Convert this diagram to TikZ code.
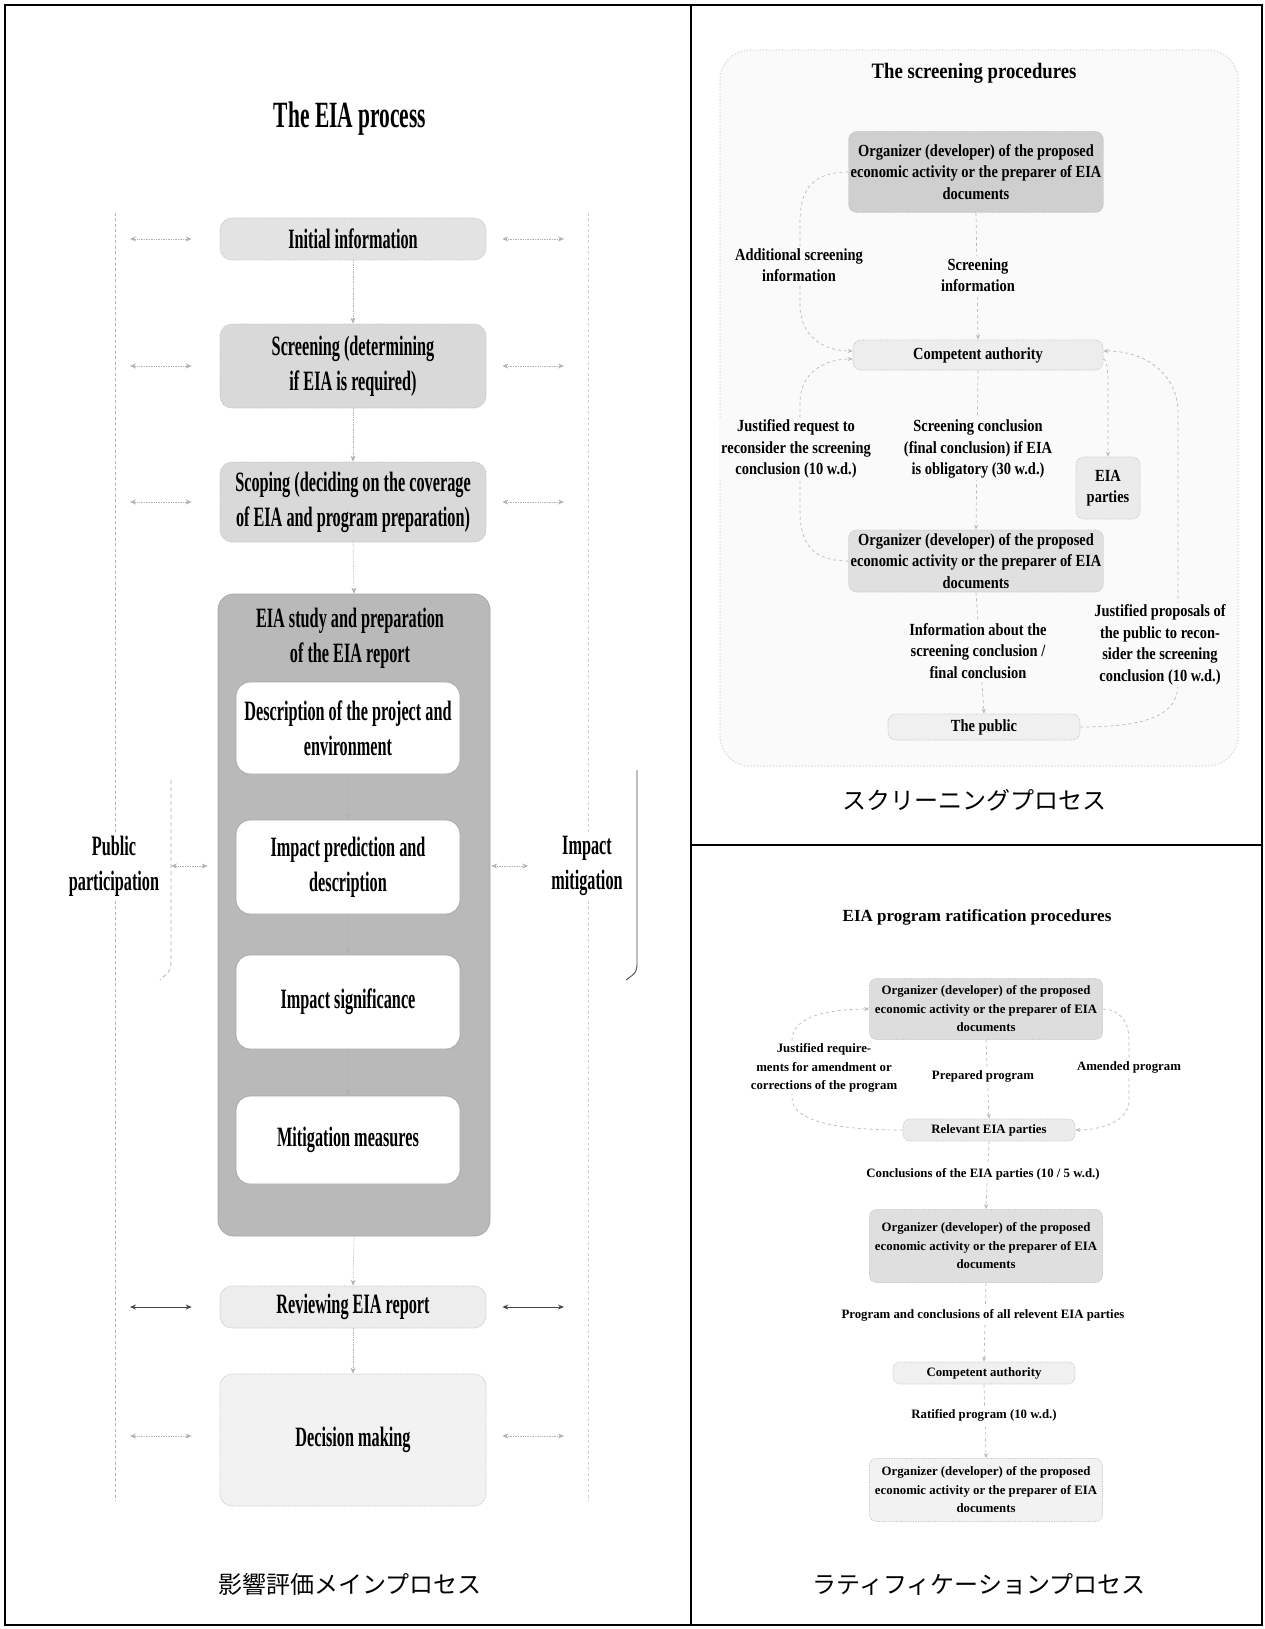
\documentclass[tikz,border=0pt]{standalone}
\usepackage{fontspec}
\setmainfont{Liberation Serif}
\newfontfamily\leftserif[FakeStretch=0.58]{Liberation Serif}
\newfontfamily\scrserif[FakeStretch=0.85]{Liberation Serif}
\newfontfamily\jpsans{Noto Sans CJK JP}
\usetikzlibrary{arrows.meta}

\colorlet{scrbg}{gray!4}

\tikzset{
  panel/.style={line width=1.6pt, draw=black},
  % left column: the EIA process
  ltext/.style={font=\leftserif\bfseries\fontsize{28}{35}\selectfont, align=center, inner sep=0pt},
  lbox/.style={ltext, rounded corners=12pt, draw=gray!55, densely dotted, line width=0.7pt},
  innerbox/.style={ltext, rounded corners=14pt, fill=white, draw=gray!70, line width=0.8pt,
                   minimum width=224pt},
  colline/.style={gray!60, dash pattern=on 3pt off 2.5pt, line width=0.8pt},
  sidearr/.style={gray!60, densely dotted, line width=0.7pt,
                  {Stealth[length=6pt,width=5pt]}-{Stealth[length=6pt,width=5pt]}},
  sidearrsolid/.style={gray!55!black, line width=0.8pt,
                  {Stealth[length=6pt,width=5pt]}-{Stealth[length=6pt,width=5pt]}},
  downarr/.style={gray!60, densely dotted, line width=0.7pt, -{Stealth[length=6pt,width=5pt]}},
  % right column: screening and ratification
  stext/.style={font=\scrserif\bfseries\fontsize{17}{21.5}\selectfont, align=center, inner sep=2pt},
  slabel/.style={stext, fill=scrbg},
  sbox/.style={stext, rounded corners=8pt, draw=gray!50, densely dotted, line width=0.7pt},
  rtext/.style={font=\bfseries\fontsize{12.8}{18.5}\selectfont, align=center, inner sep=2pt},
  rlabel/.style={rtext, fill=white},
  rbox/.style={rtext, rounded corners=7pt, draw=gray!50, densely dotted, line width=0.7pt},
  conn/.style={gray!55, dashed, line width=0.7pt, -{Stealth[length=5pt,width=4pt]}},
  caption/.style={font=\jpsans\fontsize{24}{28}\selectfont, inner sep=0pt},
}

\begin{document}
\begin{tikzpicture}[x=1pt,y=-1pt]
\useasboundingbox (0,0) rectangle (1265,1629);
\fill[white] (0,0) rectangle (1265,1629);

% ---------- panel frames ----------
\draw[panel] (5,5) rectangle (1262,1625);
\draw[panel] (691,5) -- (691,1625);
\draw[panel] (691,845) -- (1262,845);

% =====================================================
% Left panel: the EIA process
% =====================================================
\node[font=\leftserif\bfseries\fontsize{37}{44}\selectfont] (eiatitle) at (350,119) {The EIA process};

% side columns
\coordinate (ppTop) at (115,213); \coordinate (ppBot) at (115,1501);
\coordinate (imTop) at (588,213); \coordinate (imBot) at (588,1501);
\draw[colline] (ppTop) -- (ppBot);
\draw[colline, gray!35] (imTop) -- (imBot);

% main sequence
\node[lbox, fill=gray!22, minimum width=266pt, minimum height=42pt] (init) at (353,239) {Initial information};
\node[lbox, fill=gray!30, minimum width=266pt, minimum height=84pt] (screen) at (353,366) {Screening (determining\\ if EIA is required)};
\node[lbox, fill=gray!30, minimum width=266pt, minimum height=80pt] (scope) at (353,502) {Scoping (deciding on the coverage\\ of EIA and program preparation)};

\node[rounded corners=16pt, fill=gray!55, draw=gray!70, line width=0.8pt,
      minimum width=272pt, minimum height=642pt, inner sep=0pt] (big) at (354,915) {};
\node[ltext] (bighead) at (350,638) {EIA study and preparation\\ of the EIA report};
\node[innerbox, minimum height=92pt] (desc) at (348,728) {Description of the project and\\ environment};
\node[innerbox, minimum height=94pt] (pred) at (348,867) {Impact prediction and\\ description};
\node[innerbox, minimum height=94pt] (sig) at (348,1002) {Impact significance};
\node[innerbox, minimum height=88pt] (mitig) at (348,1140) {Mitigation measures};

\node[lbox, fill=gray!14, minimum width=266pt, minimum height=42pt] (review) at (353,1307) {Reviewing EIA report};
\node[lbox, fill=gray!10, minimum width=266pt, minimum height=132pt] (decide) at (353,1440) {Decision making};

% side labels
\node[ltext, fill=white, inner sep=3pt] (pubT) at (114,866) {Public\\ participation};
\node[ltext, fill=white, inner sep=3pt] (mitT) at (587,866) {Impact\\ mitigation};

% brackets next to the side labels
\coordinate (brLtop) at (171,780); \coordinate (brLbot) at (171,958); \coordinate (brLend) at (160,980);
\draw[gray!60, dash pattern=on 4pt off 3pt, line width=0.8pt] (brLtop) -- (brLbot) .. controls (171,970) .. (brLend);
\coordinate (brRtop) at (637,770); \coordinate (brRbot) at (637,960); \coordinate (brRend) at (626,980);
\draw[black!70, line width=0.9pt] (brRtop) -- (brRbot) .. controls (637,972) .. (brRend);

% downward flow
\draw[downarr] (init.south) -- (screen.north);
\draw[downarr] (screen.south) -- (scope.north);
\draw[downarr] (scope.south) -- (big.north);
\draw[downarr] (desc.south) -- (pred.north);
\draw[downarr] (pred.south) -- (sig.north);
\draw[downarr] (sig.south) -- (mitig.north);
\draw[downarr] (big.south) -- (review.north);
\draw[downarr] (review.south) -- (decide.north);

% links with the side columns
\coordinate (ppA) at (115,239);  \coordinate (imA) at (588,239);
\coordinate (ppB) at (115,366);  \coordinate (imB) at (588,366);
\coordinate (ppC) at (115,502);  \coordinate (imC) at (588,502);
\coordinate (ppD) at (115,1307); \coordinate (imD) at (588,1307);
\coordinate (ppE) at (115,1436); \coordinate (imE) at (588,1436);
\coordinate (brL) at (171,866);

\draw[sidearr, shorten <=15pt, shorten >=28pt] (ppA) -- (init.west);
\draw[sidearr, shorten <=16pt, shorten >=24pt] (init.east) -- (imA);
\draw[sidearr, shorten <=15pt, shorten >=28pt] (ppB) -- (screen.west);
\draw[sidearr, shorten <=16pt, shorten >=24pt] (screen.east) -- (imB);
\draw[sidearr, shorten <=15pt, shorten >=28pt] (ppC) -- (scope.west);
\draw[sidearr, shorten <=16pt, shorten >=24pt] (scope.east) -- (imC);
\draw[sidearr, shorten >=10pt] (brL) -- (big.west |- brL);
\draw[sidearr, shorten <=1pt, shorten >=20pt] (big.east |- mitT.west) -- (mitT.west);
\draw[sidearrsolid, shorten <=15pt, shorten >=28pt] (ppD) -- (review.west);
\draw[sidearrsolid, shorten <=16pt, shorten >=24pt] (review.east) -- (imD);
\draw[sidearr, shorten <=15pt, shorten >=28pt] (ppE) -- (decide.west |- ppE);
\draw[sidearr, shorten <=16pt, shorten >=24pt] (decide.east |- imE) -- (imE);

\node[caption] (capL) at (350,1584) {影響評価メインプロセス};

% =====================================================
% Upper right panel: the screening procedures
% =====================================================
\draw[gray!30, dotted, line width=1.2pt, fill=scrbg, rounded corners=30pt] (720,50) rectangle (1238,766);

\node[font=\scrserif\bfseries\fontsize{22}{26}\selectfont] (stitle) at (974,73) {The screening procedures};

\node[sbox, fill=gray!38, minimum width=253pt, minimum height=81pt] (org1) at (976,172)
  {Organizer (developer) of the proposed\\ economic activity or the preparer of EIA\\ documents};
\node[sbox, fill=gray!14, minimum width=250pt, minimum height=30pt] (auth) at (978,355) {Competent authority};
\node[sbox, fill=gray!16, minimum width=64pt, minimum height=62pt] (parties) at (1108,488) {EIA\\ parties};
\node[sbox, fill=gray!24, minimum width=253pt, minimum height=62pt] (org2) at (976,561)
  {Organizer (developer) of the proposed\\ economic activity or the preparer of EIA\\ documents};
\node[sbox, fill=gray!12, minimum width=192pt, minimum height=26pt] (public) at (984,727) {The public};

% loops on the left: organizer -> competent authority
\draw[conn] (org1.west) .. controls (814,172) and (800,188) .. (800,222) -- (800,305)
  .. controls (800,335) and (822,351) .. ([yshift=4pt]auth.west);
\draw[conn] (org2.west) .. controls (814,561) and (800,545) .. (800,512) -- (800,402)
  .. controls (800,375) and (822,359) .. ([yshift=-4pt]auth.west);
% straight links down the middle
\draw[conn] (org1.south) -- (auth.north);
\draw[conn] (auth.south) -- (org2.north);
\draw[conn] (org2.south) -- (public.north);
% links on the right
\draw[conn] ([yshift=-4pt]auth.east) .. controls (1106,359) and (1108,366) .. (1108,385) -- (parties.north);
\draw[conn] (public.east) .. controls (1150,727) and (1178,714) .. (1178,684) -- (1178,412)
  .. controls (1178,378) and (1150,351) .. ([yshift=4pt]auth.east);

\node[slabel] (addinfo) at (799,265) {Additional screening\\ information};
\node[slabel] (scrinfo) at (978,275) {Screening\\ information};
\node[slabel] (justreq) at (796,449) {Justified request to\\ reconsider the screening\\ conclusion (10 w.d.)};
\node[slabel] (concl) at (978,449) {Screening conclusion\\ (final conclusion) if EIA\\ is obligatory (30 w.d.)};
\node[slabel] (infoabout) at (978,651) {Information about the\\ screening conclusion /\\ final conclusion};
\node[slabel] (justprop) at (1160,645) {Justified proposals of\\ the public to recon-\\ sider the screening\\ conclusion (10 w.d.)};

\node[caption] (capS) at (974,800) {スクリーニングプロセス};

% =====================================================
% Lower right panel: EIA program ratification
% =====================================================
\node[font=\bfseries\fontsize{17}{20}\selectfont] (rtitle) at (977,917) {EIA program ratification procedures};

\node[rbox, fill=gray!27, minimum width=233pt, minimum height=61pt] (orgA) at (986,1009)
  {Organizer (developer) of the proposed\\ economic activity or the preparer of EIA\\ documents};
\node[rbox, fill=gray!16, minimum width=172pt, minimum height=22pt] (parties2) at (989,1130) {Relevant EIA parties};
\node[rbox, fill=gray!25, minimum width=233pt, minimum height=73pt] (orgB) at (986,1246)
  {Organizer (developer) of the proposed\\ economic activity or the preparer of EIA\\ documents};
\node[rbox, fill=gray!12, minimum width=182pt, minimum height=22pt] (auth2) at (984,1373) {Competent authority};
\node[rbox, fill=gray!10, minimum width=233pt, minimum height=63pt] (orgC) at (986,1490)
  {Organizer (developer) of the proposed\\ economic activity or the preparer of EIA\\ documents};

% feedback loops around the program
\draw[conn] (parties2.west) .. controls (840,1130) and (792,1122) .. (792,1098) -- (792,1040)
  .. controls (792,1016) and (830,1009) .. (orgA.west);
\draw[conn] (orgA.east) .. controls (1118,1009) and (1129,1020) .. (1129,1040) -- (1129,1100)
  .. controls (1129,1122) and (1100,1130) .. (parties2.east);
% main sequence
\draw[conn] (orgA.south) -- (parties2.north);
\draw[conn] (parties2.south) -- (orgB.north);
\draw[conn] (orgB.south) -- (auth2.north);
\draw[conn] (auth2.south) -- (orgC.north);

\node[rlabel] (justreq2) at (824,1068) {Justified require-\\ ments for amendment or\\ corrections of the program};
\node[rlabel] (prep) at (983,1076) {Prepared program};
\node[rlabel] (amended) at (1129,1067) {Amended program};
\node[rlabel] (concl2) at (983,1174) {Conclusions of the EIA parties (10 / 5 w.d.)};
\node[rlabel] (progconc) at (983,1315) {Program and conclusions of all relevent EIA parties};
\node[rlabel] (ratified) at (984,1415) {Ratified program (10 w.d.)};

\node[caption] (capR) at (979,1584) {ラティフィケーションプロセス};

\end{tikzpicture}
\end{document}
